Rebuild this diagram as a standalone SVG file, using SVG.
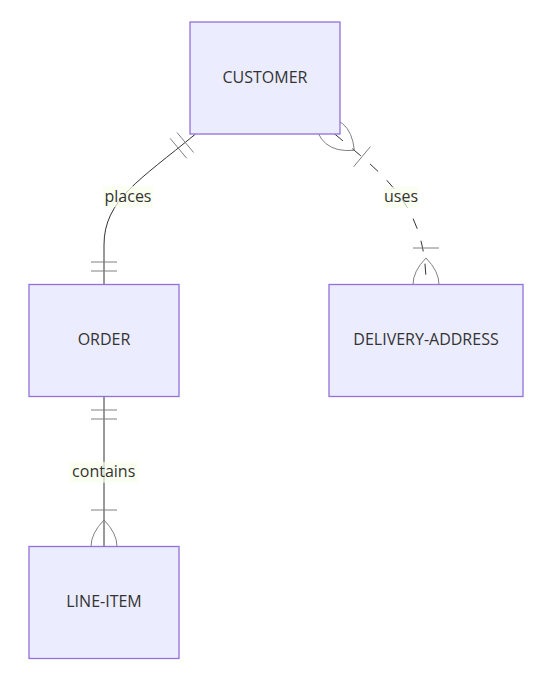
<svg xmlns="http://www.w3.org/2000/svg" width="555" height="683" viewBox="0 0 555 683">
<style>
.bg{fill:#ffffff}
.entity rect{fill:#ECECFF;stroke:#9370DB;stroke-width:1.3}
.entity text{font-family:"Open Sans","Liberation Sans",sans-serif;font-size:16px;fill:#333333;text-anchor:middle}
.rel{fill:none;stroke:#333333;stroke-width:1}
.dashed{stroke-dasharray:11 12.4}
.mk{fill:none;stroke:#808080;stroke-width:1}
.lblbox{fill:rgb(249,255,236);fill-opacity:0.7}
.lbl{font-family:"Open Sans","Liberation Sans",sans-serif;font-size:16px;fill:#333333;text-anchor:middle}
</style>
<rect class="bg" x="0" y="0" width="555" height="683"/>
<g id="connectors">
  <g id="edge-places">
    <path class="rel" d="M195.3,134.2 C140,180 104,200 104,245 L104,284.5"/>
    <path class="mk" d="M177,132.5 L193.6,152.5 M170.1,138.3 L186.7,158.3"/>
    <path class="mk" d="M91,262 L117,262 M91,271 L117,271"/>
    <rect class="lblbox" x="103" y="186.2" width="50" height="21"/>
    <text class="lbl" x="128" y="201.7">places</text>
  </g>
  <g id="edge-uses">
    <path class="rel dashed" d="M334.3,133.7 C385,176 426,205 426,284.5"/>
    <path class="mk" d="M354.3,150.3 Q351,113.7 314.3,117.1 Q317.7,153.7 354.3,150.3"/>
    <path class="mk" d="M370.3,146.7 L353.7,166.7"/>
    <path class="mk" d="M426,258 Q452,284.5 426,311 Q400,284.5 426,258"/>
    <path class="mk" d="M413,248 L439,248"/>
    <rect class="lblbox" x="383.5" y="186.8" width="35.5" height="21"/>
    <text class="lbl" x="401" y="202.3">uses</text>
  </g>
  <g id="edge-contains">
    <path class="rel" d="M104,396.5 L104,546.5"/>
    <path class="mk" d="M91,410 L117,410 M91,419 L117,419"/>
    <path class="mk" d="M91,510 L117,510"/>
    <path class="mk" d="M104,520 Q130,546.5 104,573 Q78,546.5 104,520"/>
    <rect class="lblbox" x="69" y="461.8" width="69.5" height="21"/>
    <text class="lbl" x="103.7" y="477.3">contains</text>
  </g>
</g>
<g id="node-customer" class="entity">
  <rect x="190" y="22" width="150" height="112"/>
  <text x="265" y="82.5">CUSTOMER</text>
</g>
<g id="node-order" class="entity">
  <rect x="29" y="284.5" width="150" height="112"/>
  <text x="104" y="345">ORDER</text>
</g>
<g id="node-delivery-address" class="entity">
  <rect x="329" y="284.5" width="194" height="112"/>
  <text x="426" y="345">DELIVERY-ADDRESS</text>
</g>
<g id="node-line-item" class="entity">
  <rect x="29" y="546.5" width="150" height="112"/>
  <text x="104" y="607">LINE-ITEM</text>
</g>
</svg>
